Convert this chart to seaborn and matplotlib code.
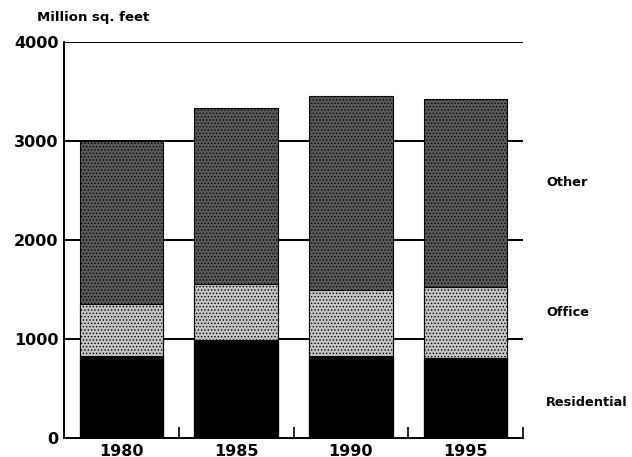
import numpy as np
import pandas as pd
import matplotlib
matplotlib.use("Agg")
import matplotlib.pyplot as plt
import seaborn as sns

# floor space by type, million sq. feet
years = ['1980', '1985', '1990', '1995']
residential = [830, 985, 830, 810]
office = [525, 570, 660, 720]
other = [1645, 1780, 1960, 1895]
series_names = ['Residential', 'Office', 'Other']
yticks = [0, 1000, 2000, 3000, 4000]

sns.set_style("white")
plt.rcParams['font.family'] = ['DejaVu Sans']
plt.rcParams['hatch.linewidth'] = 0.6
plt.rcParams['text.color'] = 'black'
plt.rcParams['xtick.color'] = 'black'
plt.rcParams['ytick.color'] = 'black'

df = pd.DataFrame({'year': years, 'Residential': residential,
                   'Office': office, 'Other': other})
df['cum_office'] = df.Residential + df.Office
df['cum_other'] = df.cum_office + df.Other

fig = plt.figure(figsize=(6.32, 4.57), dpi=100)
ax = fig.add_axes([0.1013, 0.0416, 0.7262, 0.8664])

# gridlines behind bars
for yv in yticks[1:]:
    ax.axhline(yv, color='black', lw=1.4, zorder=0)

# stacked bars, tallest first
layers = [('cum_other', '#5a5a5a', '#9a9a9a'),
          ('cum_office', '#c4c4c4', '#ffffff'),
          ('Residential', '#000000', '#000000')]
for col, fc, hc in layers:
    plt.rcParams['hatch.color'] = hc
    sns.barplot(data=df, x='year', y=col, color=fc, width=0.73,
                edgecolor='black', linewidth=0.8, saturation=1, ax=ax,
                zorder=2)
    for p in ax.patches[-len(years):]:
        p.set_facecolor(fc)
        if col != 'Residential':
            p.set_hatch('.....')

ax.set_xlim(-0.5, 3.5)
ax.set_ylim(0, 4000)
ax.set_yticks(yticks)
ax.set_yticklabels([str(v) for v in yticks], fontsize=11.5, fontweight='bold')
ax.set_xticks(range(len(years)))
ax.set_xticklabels(years, fontsize=11.5, fontweight='bold')
ax.set_xticks([0.5, 1.5, 2.5, 3.5], minor=True)
ax.tick_params(axis='both', which='major', length=0, pad=4)
ax.tick_params(axis='x', which='minor', bottom=True, direction='in',
               length=8, width=1.2, color='black')
ax.set_xlabel('')
ax.set_ylabel('')

sns.despine(ax=ax, top=True, right=True)
ax.spines['left'].set_color('black')
ax.spines['bottom'].set_color('black')
ax.spines['left'].set_linewidth(1.4)
ax.spines['bottom'].set_linewidth(1.4)

fig.text(0.059, 0.962, 'Million sq. feet', fontsize=9.5, fontweight='bold',
         va='center', ha='left')

# series labels on the right
label_y = [402, 313, 182]
for name, yp in zip(series_names, label_y):
    fig.text(546 / 632, 1 - yp / 457, name, fontsize=9.3, fontweight='bold',
             va='center', ha='left')

fig.savefig('out.png', dpi=100)
